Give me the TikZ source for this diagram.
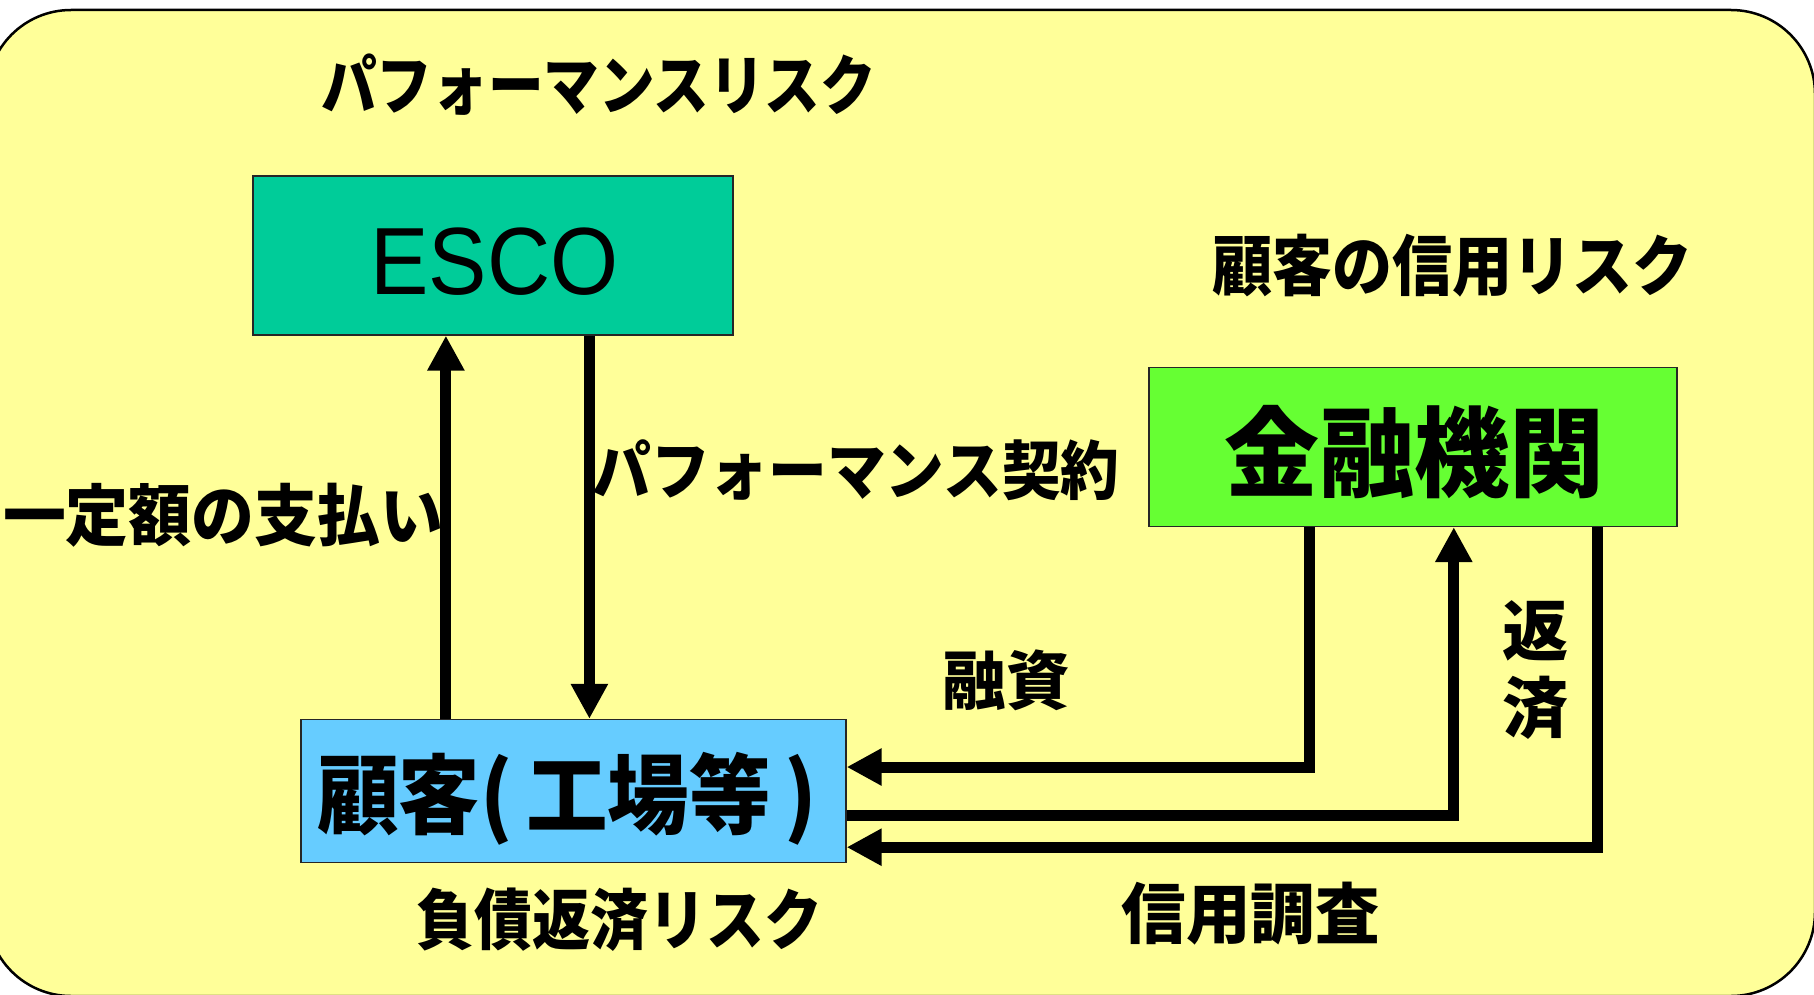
\documentclass[tikz,border=0pt]{standalone}
\usepackage{fontspec}
\usetikzlibrary{arrows.meta}
\newfontfamily\jp{Noto Sans CJK JP}
\newfontfamily\lat{Liberation Sans}
\definecolor{bgy}{HTML}{FFFF99}
\definecolor{escog}{HTML}{00CC99}
\definecolor{bankg}{HTML}{66FF33}
\definecolor{custb}{HTML}{66CCFF}
\newcommand\fitt[3]{\resizebox{#1pt}{\height}{\fontsize{#2pt}{#2pt}\selectfont #3}}
\begin{document}
\begin{tikzpicture}[x=1pt,y=-1pt,
  lbl/.style={inner sep=0pt, font=\jp\bfseries},
  box/.style={draw=black!85, line width=1.3pt, inner sep=0pt},
  arr/.style={line width=11pt, line join=miter, -{Triangle[length=35pt,width=35pt]}}]
\useasboundingbox (0,0) rectangle (1814,995);
\clip (0,0) rectangle (1814,995);
% background panel
\draw[fill=bgy, draw=black, line width=2.5pt, rounded corners=84pt] (-13,10) rectangle (1815,996);

% labels
\node[lbl] (tperf) at (598.7,84.5) {\fitt{555}{65}{パフォーマンスリスク}};
\node[lbl] (tcred) at (1452,266) {\fitt{480}{66}{顧客の信用リスク}};
\node[lbl] (tcont) at (856,470) {\fitt{527}{64}{パフォーマンス契約}};
\node[lbl] (tpay) at (223,515.5) {\fitt{440}{67}{一定額の支払い}};
\node[lbl] (tloan) at (1006,680) {\fitt{127}{64}{融資}};
\node[lbl, align=center, font=\jp\bfseries\fontsize{66pt}{77pt}\selectfont] (trep) at (1535.5,670.5) {返\\済};
\node[lbl] (tdebt) at (619,920) {\fitt{406}{66}{負債返済リスク}};
\node[lbl] (tcheck) at (1250.6,914) {\fitt{258}{66}{信用調査}};

% boxes
\node[box, fill=escog, minimum width=480pt, minimum height=159pt] (esco) at (493,255.5) {};
\node[inner sep=0pt, font=\lat] (escot) at (494.6,262) {\fitt{248}{95.5}{ESCO}};
\node[box, fill=bankg, minimum width=528pt, minimum height=159pt] (bank) at (1413,447) {};
\node[lbl] (bankt) at (1414,452.5) {\fitt{380}{98}{金融機関}};
\node[box, fill=custb, minimum width=545pt, minimum height=143pt] (cust) at (573.5,791) {};
\node[lbl] (custt) at (567,799) {\fitt{500}{87}{顧客(\,工場等\,)}};

% connectors
\draw[arr] ([xshift=-127.6pt]cust.north) -- ([xshift=-47.1pt]esco.south);
\draw[arr] ([xshift=96.4pt]esco.south) -- ([xshift=15.9pt]cust.north);
\draw[arr] ([xshift=-103.6pt]bank.south) |- ([yshift=24pt]cust.east);
\draw[arr] ([yshift=-24.3pt]cust.east) -| ([xshift=40.8pt]bank.south);
\draw[arr] ([xshift=184.8pt]bank.south) |- ([yshift=-56.2pt]cust.east);
\end{tikzpicture}
\end{document}
